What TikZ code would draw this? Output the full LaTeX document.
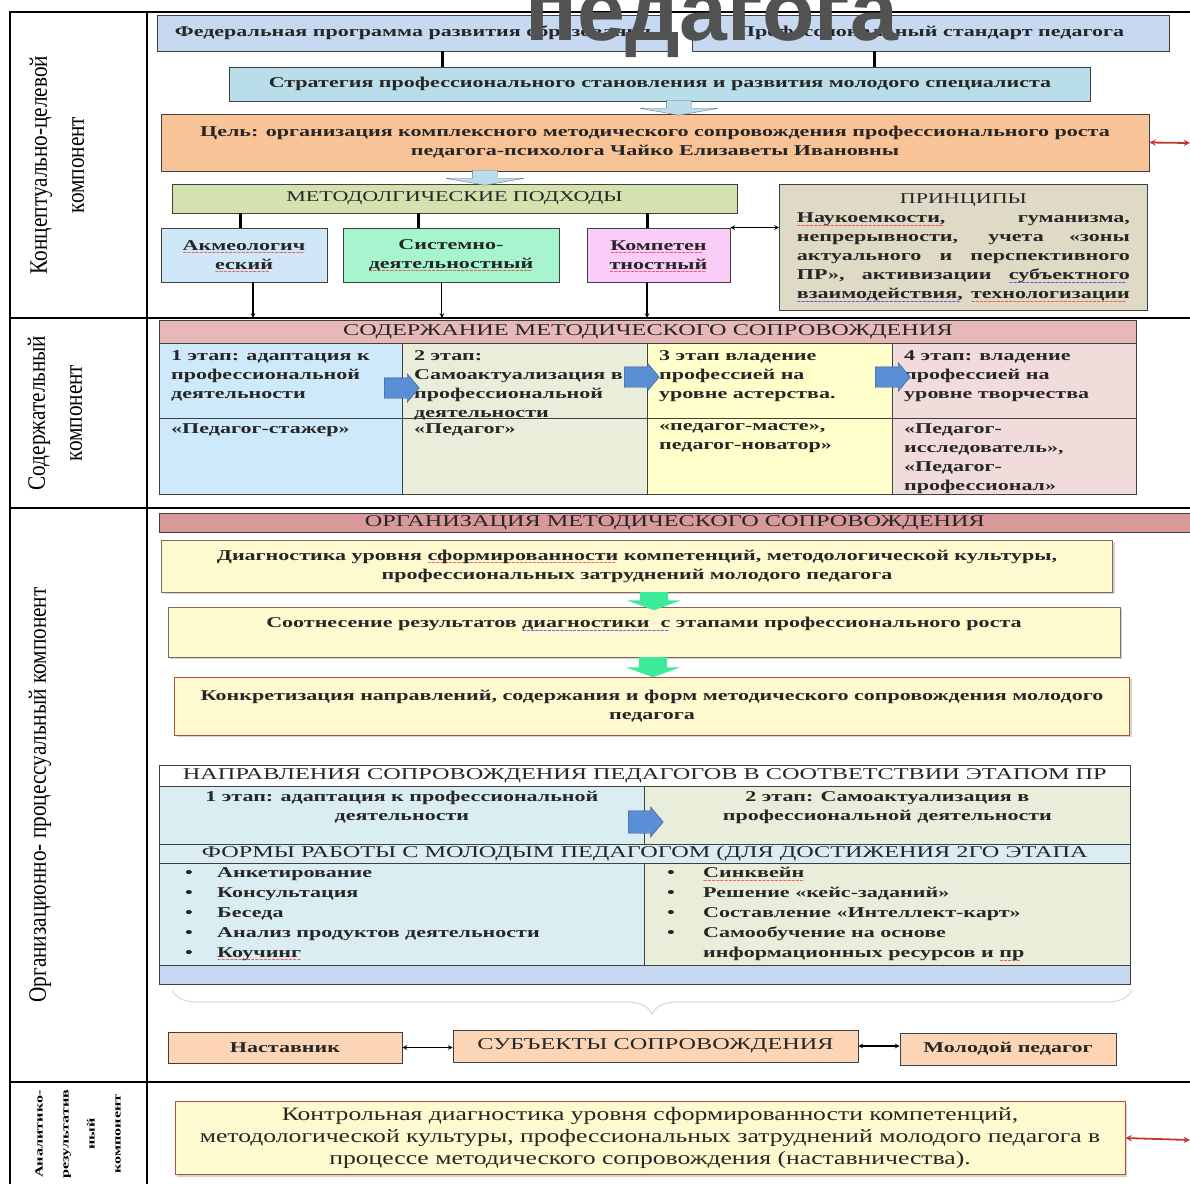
\documentclass[tikz,border=0pt]{standalone}
\usepackage{fontspec}
\setmainfont{Liberation Serif}
\newfontfamily\wideserif[FakeStretch=1.47]{Liberation Serif}
\newfontfamily\narrowserif[FakeStretch=0.85]{Liberation Serif}
\newfontfamily\plainserif[FakeStretch=1.35]{Liberation Serif}
\newfontfamily\bigsans{Liberation Sans}
\newfontfamily\wavefont{DejaVu Sans}
\usetikzlibrary{calc,positioning,shapes.arrows,shadows,decorations.pathreplacing}

\definecolor{fedblue}{HTML}{C6D9F0}
\definecolor{stratblue}{HTML}{B9DEE9}
\definecolor{goalorange}{HTML}{F9C398}
\definecolor{methgreen}{HTML}{D3E2AE}
\definecolor{akmblue}{HTML}{CFE7F7}
\definecolor{sysgreen}{HTML}{A6F5CF}
\definecolor{kompink}{HTML}{FACCF8}
\definecolor{princtan}{HTML}{DEDAC6}
\definecolor{headrose}{HTML}{E6B8B7}
\definecolor{cellblue}{HTML}{CDE9FA}
\definecolor{cellolive}{HTML}{E9EEDB}
\definecolor{cellyellow}{HTML}{FFFFCC}
\definecolor{cellpink}{HTML}{F2DCDB}
\definecolor{arrowblue}{HTML}{5A8FD6}
\definecolor{arrowedge}{HTML}{2F4F7F}
\definecolor{orgrose}{HTML}{D9999A}
\definecolor{ypale}{HTML}{FEF9CF}
\definecolor{boxedge}{HTML}{7F6A5A}
\definecolor{boxred}{HTML}{B0503C}
\definecolor{arrowgreen}{HTML}{3CEB9A}
\definecolor{stblue}{HTML}{DAEDF3}
\definecolor{tailblue}{HTML}{C6D9F1}
\definecolor{peach}{HTML}{FBD5B5}
\definecolor{redline}{HTML}{C0392B}
\definecolor{bracetan}{HTML}{EAD9C6}

% spell-check squiggle under a word
\newcommand{\wavyline}[2]{\setbox0=\hbox{#2}%
  \rlap{\raisebox{-4.5pt}[0pt][0pt]{\textcolor{#1}{\hbox to \wd0{%
    \wavefont\fontsize{5}{5}\selectfont\leaders\hbox{∼}\hfill}}}}\box0\relax}
\newcommand{\redwave}[1]{\wavyline{red}{#1}}
\newcommand{\bluewave}[1]{\wavyline{blue}{#1}}

\newcommand{\bodytxt}{\wideserif\bfseries\fontsize{15}{19}\selectfont}
\newcommand{\bulltxt}{\wideserif\bfseries\fontsize{15}{20}\selectfont}
\newcommand{\capstxt}{\wideserif\mdseries\fontsize{16.5}{19}\selectfont}
\newcommand{\smallcaps}{\wideserif\mdseries\fontsize{15}{19}\selectfont}
\newcommand{\sidetxt}{\narrowserif\fontsize{25}{37}\selectfont}
\newcommand{\tinytxt}{\wideserif\bfseries\fontsize{11}{26}\selectfont}
\newcommand{\ctrltxt}{\plainserif\fontsize{19}{22}\selectfont}

\newcommand{\connectbar}[3]{%
  \draw[bar] ($(#1.south west)!#3!(#1.south east)$) coordinate (c) -- (c |- #2.north)}
\newcommand{\connectdown}[3]{%
  \draw[thinarrow, ->] ($(#1.south west)!#3!(#1.south east)$) coordinate (c) -- ([yshift=2pt]c |- #2.north)}
\newcommand{\connectred}[2]{%
  \draw[<->, color=redline, line width=1.8pt] (#1.east) -- (#2)}

\begin{document}
\begin{tikzpicture}[x=1pt, y=-1pt, >=stealth,
    frame/.style={line width=2.2pt},
    bar/.style={line width=3pt},
    thinarrow/.style={line width=1.1pt},
    box/.style={draw=black!75, line width=0.8pt, inner sep=2pt, font=\bodytxt,
      text=black!85, align=center},
    cell/.style={draw=black!75, line width=0.8pt, inner sep=0pt, anchor=north west,
      font=\capstxt, text=black!85},
    celltext/.style={inner sep=0pt, font=\bodytxt, align=left, text=black!85},
    ybox/.style={box, fill=ypale, draw=#1,
      drop shadow={shadow xshift=2pt, shadow yshift=-2pt, opacity=.35}},
    pbox/.style={box, fill=peach},
    bluearrow/.style={single arrow, draw=arrowedge, fill=arrowblue, anchor=tail,
      inner xsep=0pt, inner ysep=10pt, minimum height=35,
      single arrow head extend=4pt, single arrow tip angle=100},
    greenarrow/.style={single arrow, shape border rotate=270, fill=arrowgreen,
      anchor=tail, inner xsep=14pt, inner ysep=0pt,
      single arrow head extend=13pt, single arrow tip angle=140},
    lightarrow/.style={single arrow, shape border rotate=270, fill=stratblue,
      draw=black!55, anchor=tail, inner xsep=12.5pt, inner ysep=0pt,
      minimum height=15, single arrow head extend=26.5pt, single arrow tip angle=160},
    sidelabel/.style={rotate=90, font=\sidetxt, align=center}]
  \useasboundingbox (0,0) rectangle (1190,1184);

  % frame of the four components
  \draw[frame] (10,1184) -- (10,12) -- (1190,12);
  \draw[frame] (147,12) -- (147,1184);
  \draw[frame] (10,318) -- (1190,318);
  \draw[frame] (10,508) -- (1190,508);
  \draw[frame] (10,1082) -- (1190,1082);

  \node[sidelabel] (lab1) at (57,165) {Концептуально-целевой\\компонент};
  \node[sidelabel] (lab2) at (55,413) {Содержательный\\компонент};
  \node[sidelabel] (lab3) at (40,795) {Организационно- процессуальный компонент};
  \node[rotate=90, font=\tinytxt, align=center] (lab4) at (78,1134)
    {Аналитико-\\результатив\\ный\\компонент};

  % conceptual component
  \node[box, fill=fedblue, minimum width=511, minimum height=36] (fed) at (413,33)
    {Федеральная программа развития образования};
  \node[box, fill=fedblue, minimum width=477, minimum height=36] (prof) at (931,33)
    {Профессиональный стандарт педагога};
  \node[box, fill=stratblue, minimum width=861, minimum height=34] (strat) at (660,84)
    {Стратегия профессионального становления и развития молодого специалиста};
  \node[box, fill=goalorange, minimum width=988, minimum height=57] (goal) at (655,142.5)
    {Цель: организация комплексного методического сопровождения профессионального роста\\
     педагога-психолога Чайко Елизаветы Ивановны};
  \node[box, fill=methgreen, font=\smallcaps, minimum width=565, minimum height=29] (meth)
    at (454.5,198.5) {МЕТОДОЛГИЧЕСКИЕ ПОДХОДЫ};
  \node[box, fill=akmblue, minimum width=166, minimum height=54] (akm) at (244,255)
    {\redwave{Акмеологич}\\\redwave{еский}};
  \node[box, fill=sysgreen, minimum width=216, minimum height=54] (sys) at (451,255)
    {Системно-\\\redwave{деятельностный}};
  \node[box, fill=kompink, minimum width=143, minimum height=54] (komp) at (658.5,255)
    {\redwave{Компетен}\\\redwave{тностный}};
  \node[box, fill=princtan, minimum width=368, minimum height=126, anchor=north west]
    (princ) at (779,184)
    {{\smallcaps ПРИНЦИПЫ}\\
     \makebox[333pt][s]{\redwave{Наукоемкости,} гуманизма,}\\
     \makebox[333pt][s]{непрерывности, учета «зоны}\\
     \makebox[333pt][s]{актуального и перспективного}\\
     \makebox[333pt][s]{ПР», активизации \bluewave{субъектного}}\\
     \makebox[333pt][s]{\bluewave{взаимодействия,} \redwave{технологизации}}};

  \node[lightarrow] (la1) at (679,100) {};
  \node[lightarrow] (la2) at (485,170) {};

  \connectbar{fed}{strat}{.558};
  \connectbar{prof}{strat}{.382};
  \connectbar{meth}{akm}{.122};
  \connectbar{meth}{sys}{.437};
  \connectbar{meth}{komp}{.841};
  \draw[thinarrow, <->] (komp.north east) -- (komp.north east -| princ.west);
  \coordinate (goalout) at (1190,143);
  \connectred{goal}{goalout};

  % content component
  \node[cell, fill=headrose, minimum width=977, minimum height=23] (head1) at (159,320)
    {СОДЕРЖАНИЕ МЕТОДИЧЕСКОГО СОПРОВОЖДЕНИЯ};
  \node[cell, fill=cellblue, minimum width=243, minimum height=75] (s1) at (159,343) {};
  \node[cell, fill=cellolive, minimum width=245, minimum height=75] (s2) at (402,343) {};
  \node[cell, fill=cellyellow, minimum width=245, minimum height=75] (s3) at (647,343) {};
  \node[cell, fill=cellpink, minimum width=244, minimum height=75] (s4) at (892,343) {};
  \node[cell, fill=cellblue, minimum width=243, minimum height=76] (r1) at (159,418) {};
  \node[cell, fill=cellolive, minimum width=245, minimum height=76] (r2) at (402,418) {};
  \node[cell, fill=cellyellow, minimum width=245, minimum height=76] (r3) at (647,418) {};
  \node[cell, fill=cellpink, minimum width=244, minimum height=76] (r4) at (892,418) {};

  \node[celltext, below right=7pt and 12pt of s1.north west] (s1t)
    {1 этап: адаптация к\\профессиональной\\деятельности};
  \node[celltext, below right=7pt and 12pt of s2.north west] (s2t)
    {2 этап:\\Самоактуализация в\\профессиональной\\деятельности};
  \node[celltext, below right=7pt and 12pt of s3.north west] (s3t)
    {3 этап владение\\профессией на\\уровне астерства.};
  \node[celltext, below right=7pt and 12pt of s4.north west] (s4t)
    {4 этап: владение\\профессией на\\уровне творчества};
  \node[celltext, below right=5pt and 12pt of r1.north west] (r1t) {«Педагог-стажер»};
  \node[celltext, below right=5pt and 12pt of r2.north west] (r2t) {«Педагог»};
  \node[celltext, below right=5pt and 12pt of r3.north west] (r3t)
    {«педагог-масте»,\\педагог-новатор»};
  \node[celltext, below right=5pt and 12pt of r4.north west] (r4t)
    {«Педагог-\\исследователь»,\\«Педагог-\\профессионал»};

  \node[bluearrow] (sa1) at (384,388) {};
  \node[bluearrow] (sa2) at (624,377) {};
  \node[bluearrow] (sa3) at (875,377) {};

  \connectdown{akm}{head1}{.554};
  \connectdown{sys}{head1}{.458};
  \connectdown{komp}{head1}{.42};

  % organisational component
  \node[cell, fill=orgrose, minimum width=1031, minimum height=19] (head2) at (159,513)
    {ОРГАНИЗАЦИЯ МЕТОДИЧЕСКОГО СОПРОВОЖДЕНИЯ};
  \node[ybox=boxedge, minimum width=951, minimum height=52] (diag) at (637,566)
    {Диагностика уровня \redwave{сформированности} компетенций, методологической культуры,\\
     профессиональных затруднений молодого педагога};
  \node[ybox=boxedge, minimum width=952, minimum height=50] (corr) at (644,632)
    {Соотнесение результатов \bluewave{диагностики\ \ с} этапами профессионального роста\\\mbox{}};
  \node[ybox=boxred, minimum width=955, minimum height=58] (spec) at (652,706)
    {Конкретизация направлений, содержания и форм методического сопровождения молодого\\
     педагога};
  \node[greenarrow, minimum height=18] (ga1) at (654,592) {};
  \node[greenarrow, minimum height=20] (ga2) at (653,657) {};

  \node[cell, fill=white, minimum width=971, minimum height=21] (head3) at (159,765)
    {НАПРАВЛЕНИЯ СОПРОВОЖДЕНИЯ ПЕДАГОГОВ В СООТВЕТСТВИИ ЭТАПОМ ПР};
  \node[cell, fill=stblue, minimum width=485, minimum height=58, font=\bodytxt,
    align=center] (st1) at (159,786)
    {1 этап: адаптация к профессиональной\\деятельности\\\mbox{}};
  \node[cell, fill=cellolive, minimum width=486, minimum height=58, font=\bodytxt,
    align=center] (st2) at (644,786)
    {2 этап: Самоактуализация в\\профессиональной деятельности\\\mbox{}};
  \node[cell, fill=stblue, minimum width=971, minimum height=19] (forms) at (159,844)
    {ФОРМЫ РАБОТЫ С МОЛОДЫМ ПЕДАГОГОМ (ДЛЯ ДОСТИЖЕНИЯ 2ГО ЭТАПА};
  \node[cell, fill=stblue, minimum width=485, minimum height=102] (fl) at (159,863) {};
  \node[cell, fill=cellolive, minimum width=486, minimum height=102] (fr) at (644,863) {};
  \node[cell, fill=tailblue, minimum width=971, minimum height=19] (tail) at (159,965) {};

  \node[celltext, font=\bulltxt, below right=4pt and 26pt of fl.north west] (flt)
    {\makebox[32pt][l]{\textbullet}Анкетирование\\
     \makebox[32pt][l]{\textbullet}Консультация\\
     \makebox[32pt][l]{\textbullet}Беседа\\
     \makebox[32pt][l]{\textbullet}Анализ продуктов деятельности\\
     \makebox[32pt][l]{\textbullet}\redwave{Коучинг}};
  \node[celltext, font=\bulltxt, below right=4pt and 23pt of fr.north west] (frt)
    {\makebox[36pt][l]{\textbullet}\redwave{Синквейн}\\
     \makebox[36pt][l]{\textbullet}Решение «кейс-заданий»\\
     \makebox[36pt][l]{\textbullet}Составление «Интеллект-карт»\\
     \makebox[36pt][l]{\textbullet}Самообучение на основе\\
     \hspace*{36pt}информационных ресурсов и \redwave{пр}};
  \node[bluearrow, inner ysep=11pt] (sa4) at (628,822) {};

  \draw[bracetan, line width=1.2pt, decorate,
    decoration={brace, mirror, amplitude=24pt}] (172,990) -- (1132,990);

  \node[pbox, minimum width=234, minimum height=31] (ment) at (285,1047.5) {Наставник};
  \node[pbox, font=\capstxt, minimum width=405, minimum height=32] (subj) at (655.5,1046)
    {СУБЪЕКТЫ СОПРОВОЖДЕНИЯ};
  \node[pbox, minimum width=216, minimum height=32] (young) at (1008,1049)
    {Молодой педагог};
  \draw[thinarrow, <->] (ment.east) -- (ment.east -| subj.west);
  \draw[thinarrow, <->] (subj.east) -- (subj.east -| young.west);

  % analytic component
  \node[ybox=boxred, font=\ctrltxt, minimum width=950, minimum height=73] (ctrl)
    at (650,1138)
    {Контрольная диагностика уровня сформированности компетенций,\\
     методологической культуры, профессиональных затруднений молодого педагога в\\
     процессе методического сопровождения (наставничества).};
  \coordinate (ctrlout) at (1190,1140);
  \connectred{ctrl}{ctrlout};

  \node[anchor=base, text=black!68, font=\bigsans\bfseries\fontsize{86}{90}\selectfont]
    (title) at (712,40) {педагога};
\end{tikzpicture}
\end{document}
